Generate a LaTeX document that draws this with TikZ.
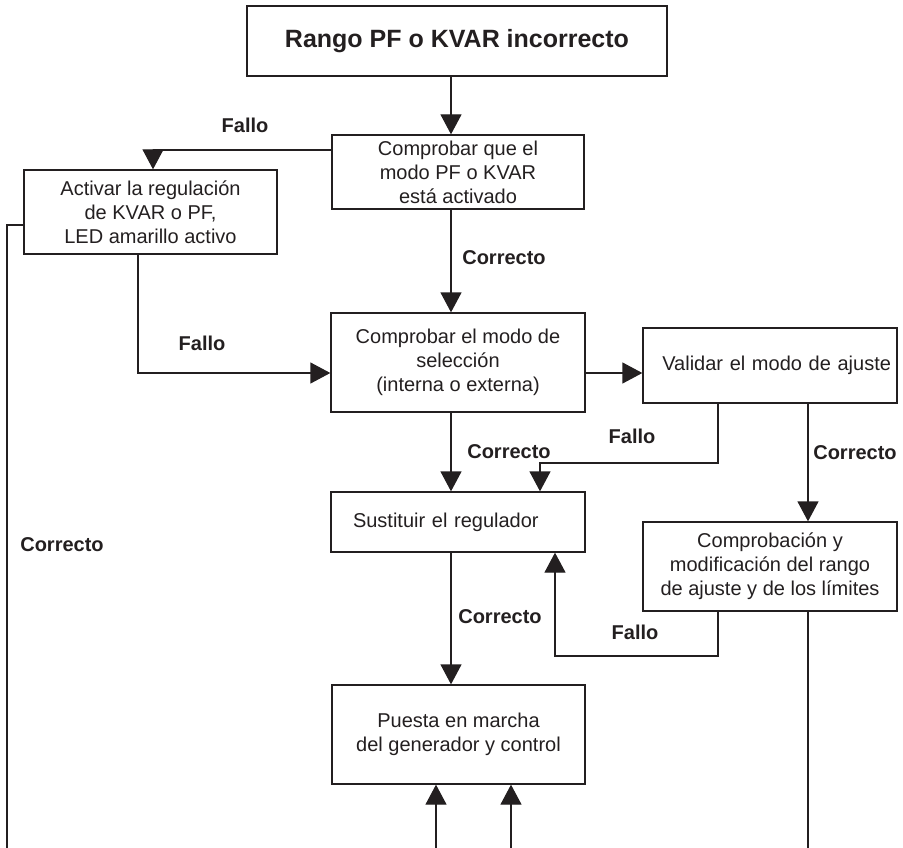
\documentclass[tikz,border=0pt]{standalone}
\usepackage{fontspec}
\setmainfont{Liberation Sans}
\usetikzlibrary{arrows.meta}
\definecolor{tinta}{HTML}{231F20}

\begin{document}
\begin{tikzpicture}[x=1pt,y=-1pt,line join=miter,
	caja/.style={draw=tinta,line width=1.3pt,text=tinta,align=center,inner sep=0pt,font=\fontsize{20}{24}\selectfont},
	flecha/.style={draw=tinta,line width=1.3pt,-{Triangle[length=20pt,width=21pt]}},
	linea/.style={draw=tinta,line width=1.3pt},
	etiq/.style={text=tinta,font=\fontsize{20}{24}\selectfont\bfseries}]
			\useasboundingbox (0,0) rectangle (903,848);
			
			% Cajas
			\node[caja,line width=2.2pt,minimum width=420pt,minimum height=70pt,font=\fontsize{25}{30}\selectfont\bfseries] (titulo) at (457,41) {Rango PF o KVAR incorrecto};
			\node[caja,minimum width=252pt,minimum height=74pt] (modo) at (458,172) {Comprobar que el\\modo PF o KVAR\\está activado};
			\node[caja,minimum width=253pt,minimum height=84pt] (activar) at (150.5,212) {Activar la regulación\\de KVAR o PF,\\LED amarillo activo};
			\node[caja,minimum width=254pt,minimum height=99pt] (seleccion) at (458,362.5) {Comprobar el modo de\\selección\\(interna o externa)};
			\node[caja,minimum width=254pt,minimum height=75pt,text width=242pt,align=right] (validar) at (770,365.5) {Validar el modo de ajuste};
			\node[caja,minimum width=254pt,minimum height=60pt,text width=210pt,align=left] (sustituir) at (458,522) {Sustituir el regulador};
			\node[caja,minimum width=254pt,minimum height=89pt] (limites) at (770,566.5) {Comprobación y\\modificación del rango\\de ajuste y de los límites};
			\node[caja,minimum width=253pt,minimum height=99pt] (puesta) at (458.5,734.5) {Puesta en marcha\\del generador y control};
			
			% Puntos auxiliares
			\coordinate (eje) at (451,0);
			\coordinate (codoV) at (540,463);
			\coordinate (codoC) at (555,656);
			\coordinate (finIzq) at (7,848);
			\coordinate (finDer) at (808,848);
			\coordinate (finA) at (436,848);
			\coordinate (finB) at (511,848);
			
			% Conectores
			\draw[flecha] (titulo.south -| eje) -- (modo.north -| eje);
			\draw[flecha] ([yshift=22pt]modo.west) -| ([xshift=2.5pt]activar.north);
			\draw[linea] ([yshift=-13pt]activar.west) -| (finIzq);
			\draw[flecha] ([xshift=-12.5pt]activar.south) |- ([yshift=-10.5pt]seleccion.west);
			\draw[flecha] (modo.south -| eje) -- (seleccion.north -| eje);
			\draw[flecha] ([yshift=-10.5pt]seleccion.east) -- ([yshift=-10.5pt]seleccion.east -| validar.west);
			\draw[flecha] (seleccion.south -| eje) -- (sustituir.north -| eje);
			\draw[flecha] ([xshift=-52pt]validar.south) |- (codoV) -- (codoV |- sustituir.north);
			\draw[flecha] ([xshift=38pt]validar.south) -- ([xshift=38pt]limites.north);
			\draw[flecha] ([xshift=-52pt]limites.south) |- (codoC) -- (codoC |- sustituir.south);
			\draw[linea] ([xshift=38pt]limites.south) -- (finDer);
			\draw[flecha] (sustituir.south -| eje) -- (puesta.north -| eje);
			\draw[flecha] (finA) -- (finA |- puesta.south);
			\draw[flecha] (finB) -- (finB |- puesta.south);
			
			% Etiquetas
			\node[etiq] (f1) at (245,125) {Fallo};
			\node[etiq] (c1) at (504,258) {Correcto};
			\node[etiq] (f2) at (202,343) {Fallo};
			\node[etiq] (c2) at (509,452) {Correcto};
			\node[etiq] (f3) at (632,436) {Fallo};
			\node[etiq] (c3) at (855,453) {Correcto};
			\node[etiq] (c4) at (62,545) {Correcto};
			\node[etiq] (c5) at (500,617) {Correcto};
			\node[etiq] (f4) at (635,632) {Fallo};
		\end{tikzpicture}
\end{document}
